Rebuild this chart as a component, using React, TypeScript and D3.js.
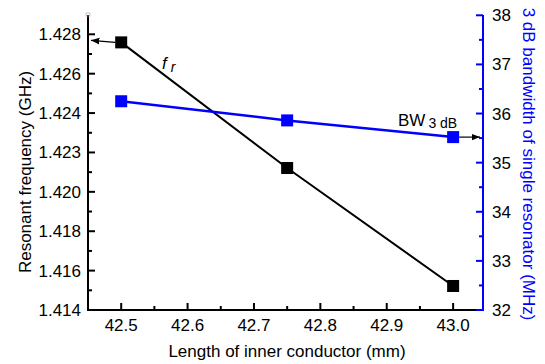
import React from "react";
import * as d3 from "d3";

const lengths = [42.5, 42.75, 43.0];
const freqValues = [1.42759, 1.42121, 1.41522];
const bwValues = [36.25, 35.86, 35.52];
const leftTickValues = [1.414, 1.416, 1.418, 1.42, 1.422, 1.424, 1.426, 1.428];
const leftTickLabels = ["1.414", "1.416", "1.418", "1.420", "1.423", "1.424", "1.426", "1.428"];
const rightTickValues = [32, 33, 34, 35, 36, 37, 38];
const xTickValues = [42.5, 42.6, 42.7, 42.8, 42.9, 43.0];

const W = 545, H = 364;
const L = 88, R = 483, T = 15, B = 310;
const FONT = "Liberation Sans, Arial, sans-serif";
const FS = 17;

export default function App() {
  const x = d3.scaleLinear().domain([42.45, 43.045]).range([L, R]);
  const yL = d3.scaleLinear().domain([1.414, 1.42898]).range([B, T]);
  const yR = d3.scaleLinear().domain([32, 38.006]).range([B, T]);
  const lineL = d3.line<number>().x((_, i) => x(lengths[i])).y((d) => yL(d));
  const lineR = d3.line<number>().x((_, i) => x(lengths[i])).y((d) => yR(d));
  const xMinor = d3.range(42.45, 43.0001, 0.1).map((v) => +v.toFixed(3));
  const leftMinor = leftTickValues.slice(0, -1).map((v) => v + 0.001);
  const rightMinor = rightTickValues.slice(0, -1).map((v) => v + 0.5);
  const ms = 12;

  return (
    <svg width={W} height={H} style={{ position: "absolute", left: 0, top: 0, background: "#fff" }}>
      <defs>
        <marker id="ah" viewBox="0 0 10 10" refX="10" refY="5" markerWidth="7" markerHeight="7" orient="auto-start-reverse">
          <path d="M0,1 L10,5 L0,9 z" fill="#000" />
        </marker>
      </defs>
      {/* lines */}
      <path d={lineL(freqValues) || ""} fill="none" stroke="#000" strokeWidth={2} />
      <path d={lineR(bwValues) || ""} fill="none" stroke="#0000ff" strokeWidth={2.5} />
      {/* arrows */}
      <line x1={x(lengths[0]) - 6} y1={yL(freqValues[0])} x2={L + 3} y2={yL(freqValues[0]) - 2} stroke="#000" strokeWidth={1.2} markerEnd="url(#ah)" />
      <line x1={x(lengths[2]) + 6} y1={yR(bwValues[2])} x2={R - 3} y2={yR(bwValues[2])} stroke="#000" strokeWidth={1.2} markerEnd="url(#ah)" />
      {/* markers */}
      {freqValues.map((v, i) => (
        <rect key={"f" + i} x={x(lengths[i]) - ms / 2} y={yL(v) - ms / 2} width={ms} height={ms} fill="#000" />
      ))}
      {bwValues.map((v, i) => (
        <rect key={"b" + i} x={x(lengths[i]) - ms / 2} y={yR(v) - ms / 2} width={ms} height={ms} fill="#0000ff" />
      ))}
      {/* bottom axis */}
      <line x1={L} y1={B} x2={R} y2={B} stroke="#000" strokeWidth={2} />
      {xTickValues.map((v) => (
        <g key={"xt" + v}>
          <line x1={x(v)} y1={B} x2={x(v)} y2={B - 7} stroke="#000" strokeWidth={2} />
          <text x={x(v)} y={B + 21} textAnchor="middle" fontFamily={FONT} fontSize={FS} fill="#000">{v.toFixed(1)}</text>
        </g>
      ))}
      {xMinor.map((v) => (
        <line key={"xm" + v} x1={x(v)} y1={B} x2={x(v)} y2={B - 4} stroke="#000" strokeWidth={2} />
      ))}
      {/* left axis */}
      <line x1={L} y1={B + 1} x2={L} y2={T} stroke="#000" strokeWidth={2} />
      {leftTickValues.map((v, i) => (
        <g key={"lt" + v}>
          <line x1={L} y1={yL(v)} x2={L + 7} y2={yL(v)} stroke="#000" strokeWidth={2} />
          <text x={L - 7} y={yL(v) + 6} textAnchor="end" fontFamily={FONT} fontSize={FS} fill="#000">{leftTickLabels[i]}</text>
        </g>
      ))}
      {leftMinor.map((v) => (
        <line key={"lm" + v} x1={L} y1={yL(v)} x2={L + 4} y2={yL(v)} stroke="#000" strokeWidth={2} />
      ))}
      <rect x={L - 2} y={T - 2} width={4} height={3} fill="none" stroke="#aaa" strokeWidth={0.7} />
      {/* right axis */}
      <line x1={R} y1={B + 1} x2={R} y2={T} stroke="#0000ff" strokeWidth={2} />
      {rightTickValues.map((v) => (
        <g key={"rt" + v}>
          <line x1={R} y1={yR(v)} x2={R - 7} y2={yR(v)} stroke="#0000ff" strokeWidth={2} />
          <text x={R + 9} y={yR(v) + 6} textAnchor="start" fontFamily={FONT} fontSize={FS} fill="#000">{v}</text>
        </g>
      ))}
      {rightMinor.map((v) => (
        <line key={"rm" + v} x1={R} y1={yR(v)} x2={R - 4} y2={yR(v)} stroke="#0000ff" strokeWidth={2} />
      ))}
      {/* annotations */}
      <text x={162} y={69} fontFamily={FONT} fontSize={FS} fontStyle="italic" fill="#000">
        f<tspan dx={4} dy={3} fontSize={14}>r</tspan>
      </text>
      <text x={398} y={126} fontFamily={FONT} fontSize={FS} fill="#000">
        BW<tspan dx={3} dy={2} fontSize={14}>3 dB</tspan>
      </text>
      {/* axis titles */}
      <text x={287} y={357} textAnchor="middle" fontFamily={FONT} fontSize={FS} fill="#000">Length of inner conductor (mm)</text>
      <text transform={`translate(31,172) rotate(-90)`} textAnchor="middle" fontFamily={FONT} fontSize={FS} fill="#000">Resonant frequency (GHz)</text>
      <text transform={`translate(523,164) rotate(90)`} textAnchor="middle" fontFamily={FONT} fontSize={FS} fill="#0000ff">3 dB bandwidth of single resonator (MHz)</text>
    </svg>
  );
}
